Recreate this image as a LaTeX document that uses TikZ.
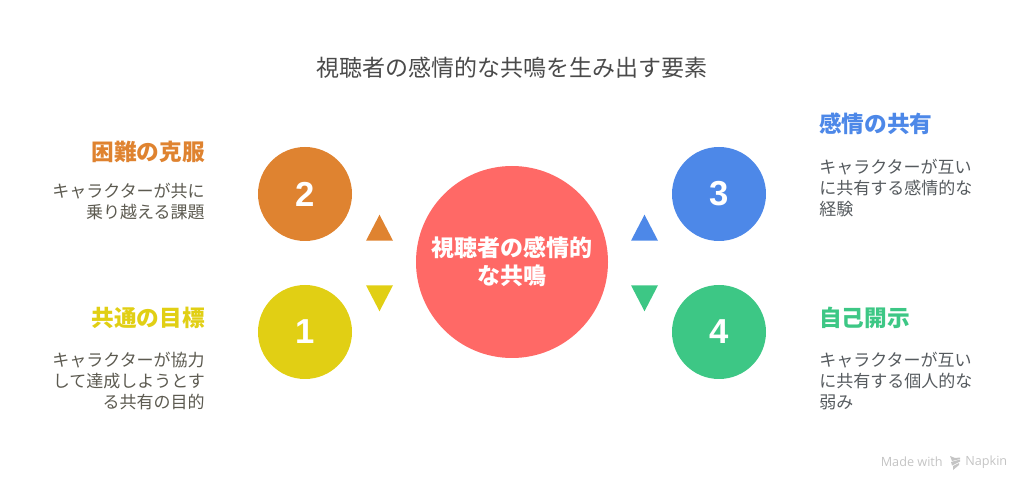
\documentclass[tikz,border=0pt]{standalone}
\usepackage{fontspec}
\setmainfont{Noto Sans CJK JP}
\newfontfamily\digitfont{Liberation Sans}
\newfontfamily\markfont{Open Sans}
\usepackage{xcolor}
\usetikzlibrary{positioning, shapes.geometric}

\definecolor{hubred}{HTML}{FF6966}
\definecolor{goalyellow}{HTML}{E1CF14}
\definecolor{hardorange}{HTML}{DF8330}
\definecolor{shareblue}{HTML}{4D88E8}
\definecolor{opengreen}{HTML}{3DC785}
\definecolor{titlegray}{HTML}{4A4A4A}
\definecolor{warmgray}{HTML}{5C5A50}
\definecolor{coolgray}{HTML}{555A5E}
\definecolor{marklight}{HTML}{C4C4C4}

\begin{document}
\begin{tikzpicture}[
            x=0.75pt, y=-0.75pt,
            hub/.style={circle, fill=hubred, minimum size=144pt, inner sep=0pt, align=center,
                    text=white, font=\fontsize{17.25}{21}\selectfont\bfseries},
            numcircle/.style={circle, fill=#1, minimum size=70.5pt, inner sep=0pt,
                    text=white, font=\digitfont\fontsize{26}{26}\selectfont\bfseries},
            uptri/.style={isosceles triangle, isosceles triangle stretches, shape border rotate=90,
                    fill=#1, minimum width=20.25pt, minimum height=19.5pt, inner sep=0pt, anchor=lower side},
            downtri/.style={uptri=#1, shape border rotate=-90},
            head/.style={text=#1, inner sep=0pt, font=\fontsize{17}{20}\selectfont\bfseries},
            bodytext/.style={text=#1, inner sep=0pt, font=\fontsize{12.75}{15.6}\selectfont},
            marktext/.style={text=marklight, inner sep=0pt, font=\markfont\fontsize{9.5}{12}\selectfont},
        ]
        \useasboundingbox (0,0) rectangle (1024,484);

        \node[text=titlegray, inner sep=0pt, font=\fontsize{17.25}{20}\selectfont] (title) at (512,68) {視聴者の感情的な共鳴を生み出す要素};

        \node[hub] (hub) at (512,262) {視聴者の感情的\\な共鳴};

        \node[numcircle=hardorange] (c2) at (305,194) {2};
        \node[numcircle=goalyellow] (c1) at (305,332) {1};
        \node[numcircle=shareblue] (c3) at (719,194) {3};
        \node[numcircle=opengreen] (c4) at (719,332) {4};

        \node[uptri=hardorange] (t2) at (379.5,241) {};
        \node[downtri=goalyellow] (t1) at (379.5,285) {};
        \node[uptri=shareblue] (t3) at (644.5,241) {};
        \node[downtri=opengreen] (t4) at (644.5,285) {};

        \node[head=hardorange, anchor=east] (h2) at (205,151.5) {困難の克服};
        \node[bodytext=warmgray, align=right, below=15.25pt of h2.south east, anchor=north east] (b2) {キャラクターが共に\\乗り越える課題};
        \node[head=goalyellow, anchor=east] (h1) at (205,317.5) {共通の目標};
        \node[bodytext=warmgray, align=right, below=17.5pt of h1.south east, anchor=north east] (b1) {キャラクターが協力\\して達成しようとす\\る共有の目的};

        \node[head=shareblue, anchor=west] (h3) at (819,124) {感情の共有};
        \node[bodytext=coolgray, align=left, below=18pt of h3.south west, anchor=north west] (b3) {キャラクターが互い\\に共有する感情的な\\経験};
        \node[head=opengreen, anchor=west] (h4) at (819,317.5) {自己開示};
        \node[bodytext=coolgray, align=left, below=17.5pt of h4.south west, anchor=north west] (b4) {キャラクターが互い\\に共有する個人的な\\弱み};

        % footer mark
        \node[marktext, anchor=east] (made) at (943,462) {Made with};
        \node[marktext, anchor=west] (napkin) at (965,462) {Napkin};
        \fill[marklight] (950,456) -- (955,458) -- (960,457.5) -- (960,459) -- (952,461) -- cycle;
        \fill[marklight] (951,462) -- (960,459.5) -- (960,461.5) -- (952,465.5) -- cycle;
        \fill[marklight] (953,466) -- (959,463) -- (959,465) -- (953,470) -- cycle;
    \end{tikzpicture}
\end{document}
